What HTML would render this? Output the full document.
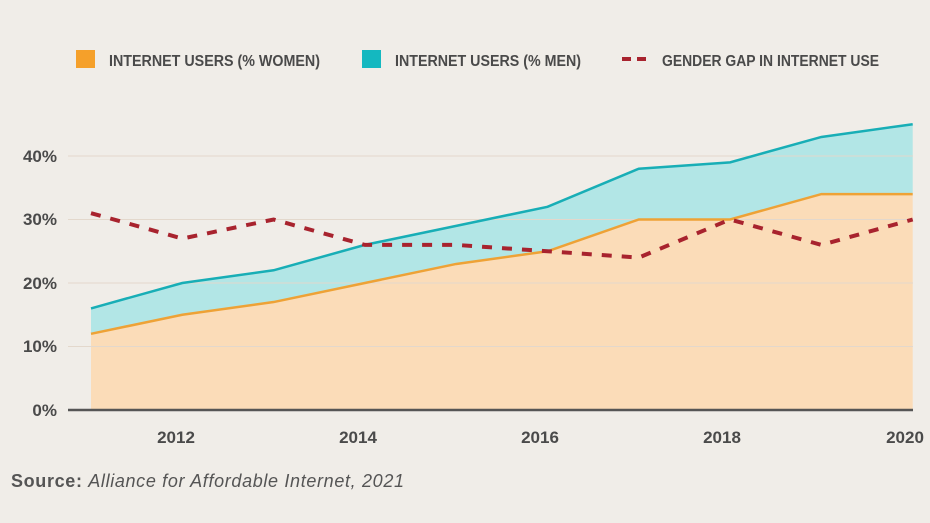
<!DOCTYPE html>
<html><head><meta charset="utf-8"><style>
body{margin:0;background:#f0ede8;}
svg{display:block}
.c{font-family:"Liberation Sans Narrow","Liberation Sans",sans-serif;font-weight:bold;fill:#4a4a4a}
</style></head><body>
<svg width="930" height="523" viewBox="0 0 930 523" xmlns="http://www.w3.org/2000/svg">
<rect width="930" height="523" fill="#f0ede8"/>
<rect x="76" y="50" width="19" height="18" fill="#f5a02a"/>
<text class="c" x="109" y="66" font-size="16" textLength="211" lengthAdjust="spacingAndGlyphs">INTERNET USERS (% WOMEN)</text>
<rect x="362" y="50" width="19" height="18" fill="#14b8c0"/>
<text class="c" x="395" y="66" font-size="16" textLength="186" lengthAdjust="spacingAndGlyphs">INTERNET USERS (% MEN)</text>
<line x1="622" y1="59" x2="650" y2="59" stroke="#a8232e" stroke-width="4" stroke-dasharray="9,6"/>
<text class="c" x="662" y="66" font-size="16" textLength="217" lengthAdjust="spacingAndGlyphs">GENDER GAP IN INTERNET USE</text>
<polygon fill="#b2e6e6" points="91,308.4 182.3,283 273.6,270.3 364.9,244.9 456.2,225.85 547.5,206.8 638.8,168.7 730.1,162.35 821.4,136.95 912.7,124.25 912.7,194.1 821.4,194.1 730.1,219.5 638.8,219.5 547.5,251.25 456.2,263.95 364.9,283 273.6,302.05 182.3,314.75 91,333.8"/>
<polygon fill="#fbdcb8" points="91,333.8 182.3,314.75 273.6,302.05 364.9,283 456.2,263.95 547.5,251.25 638.8,219.5 730.1,219.5 821.4,194.1 912.7,194.1 912.7,410 91,410"/>
<g stroke="#e3d8cc" stroke-width="1">
<line x1="68" y1="156" x2="913" y2="156"/><line x1="68" y1="219.5" x2="913" y2="219.5"/><line x1="68" y1="283" x2="913" y2="283"/><line x1="68" y1="346.5" x2="913" y2="346.5"/>
</g>
<polyline fill="none" stroke="#18aeb6" stroke-width="2.5" points="91,308.4 182.3,283 273.6,270.3 364.9,244.9 456.2,225.85 547.5,206.8 638.8,168.7 730.1,162.35 821.4,136.95 912.7,124.25"/>
<polyline fill="none" stroke="#eea236" stroke-width="2.5" points="91,333.8 182.3,314.75 273.6,302.05 364.9,283 456.2,263.95 547.5,251.25 638.8,219.5 730.1,219.5 821.4,194.1 912.7,194.1"/>
<polyline fill="none" stroke="#a8232e" stroke-width="4" stroke-dasharray="10,10" points="91,213.15 182.3,238.55 273.6,219.5 364.9,244.9 456.2,244.9 547.5,251.25 638.8,257.6 730.1,219.5 821.4,244.9 912.7,219.5"/>
<line x1="68" y1="410" x2="913" y2="410" stroke="#555" stroke-width="2.5"/>
<g class="c" font-size="17" text-anchor="end">
<text x="57" y="162">40%</text><text x="57" y="225">30%</text><text x="57" y="289">20%</text><text x="57" y="352">10%</text><text x="57" y="416">0%</text>
</g>
<g class="c" font-size="17" text-anchor="middle">
<text x="176" y="443">2012</text><text x="358" y="443">2014</text><text x="540" y="443">2016</text><text x="722" y="443">2018</text><text x="905" y="443">2020</text>
</g>
<text x="11" y="487" font-family="'Liberation Sans',sans-serif" font-size="18" fill="#555" textLength="393" lengthAdjust="spacing"><tspan font-weight="bold">Source:</tspan> <tspan font-style="italic">Alliance for Affordable Internet, 2021</tspan></text>
</svg>
</body></html>
